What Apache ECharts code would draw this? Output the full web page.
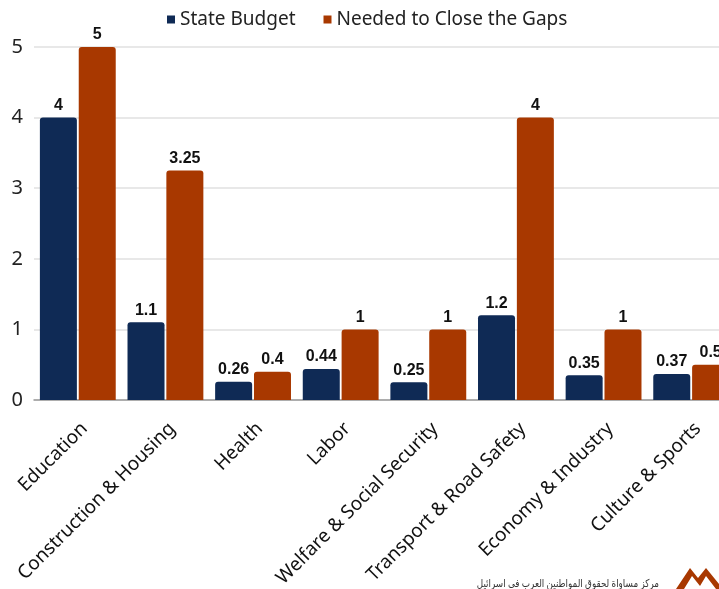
<!DOCTYPE html>
<html><head><meta charset="utf-8">
<script src="https://cdn.jsdelivr.net/npm/echarts@6/dist/echarts.min.js"></script>
<style>html,body{margin:0;padding:0;background:#fff}#c{width:719px;height:589px}</style>
</head><body><div id="c"></div>
<script>
const categories = ['Education','Construction & Housing','Health','Labor','Welfare & Social Security','Transport & Road Safety','Economy & Industry','Culture & Sports'];
const stateBudget = [4, 1.1, 0.26, 0.44, 0.25, 1.2, 0.35, 0.37];
const neededToClose = [5, 3.25, 0.4, 1, 1, 4, 1, 0.5];
const yTicks = [0, 1, 2, 3, 4, 5];
const seriesNames = ['State Budget', 'Needed to Close the Gaps'];
const logoText = 'مركز مساواة لحقوق المواطنين العرب في اسرائيل';

const chart = echarts.init(document.getElementById('c'));
const labelStyle = {show: true, position: 'top', distance: 4, fontFamily: 'Liberation Sans, Arial', fontWeight: 'bold', fontSize: 16, color: '#111'};
chart.setOption({
  animation: false,
  legend: {
    top: 5, left: 162,
    itemWidth: 8, itemHeight: 8, itemGap: 28, icon: 'rect',
    textStyle: {fontFamily: 'Noto Sans', fontSize: 19, color: '#222'},
    data: seriesNames
  },
  grid: {left: 34, width: 701, top: 47, bottom: 189, outerBoundsMode: 'none', containLabel: false},
  xAxis: {
    type: 'category', data: categories,
    axisLine: {lineStyle: {color: '#999', width: 1.5}},
    axisTick: {show: false},
    axisLabel: {rotate: 45, interval: 0, margin: 19, verticalAlign: 'top', fontFamily: 'Noto Sans', fontSize: 19, color: '#111'}
  },
  yAxis: {
    type: 'value', min: yTicks[0], max: yTicks[yTicks.length - 1], interval: 1,
    axisLine: {show: false}, axisTick: {show: false},
    axisLabel: {margin: 11, fontFamily: 'Noto Sans', fontSize: 20, color: '#222'},
    splitLine: {lineStyle: {color: '#e0e0e0', width: 1.5}}
  },
  series: [
    {name: seriesNames[0], type: 'bar', data: stateBudget, barWidth: 37, barGap: '5%',
     itemStyle: {color: '#0f2a55', borderRadius: [3,3,0,0]}, label: labelStyle},
    {name: seriesNames[1], type: 'bar', data: neededToClose, barWidth: 37,
     itemStyle: {color: '#a83800', borderRadius: [3,3,0,0]}, label: labelStyle}
  ],
  graphic: [
    {type: 'text', x: 659, y: 578, scaleX: 0.8, originX: 0, originY: 0, style: {text: logoText, font: '11px "Noto Sans", "DejaVu Sans"', fill: '#333', align: 'right', textAlign: 'right'}},
    {type: 'polygon', left: 676, top: 568, shape: {points: [[0,23],[14,2],[22,12],[30,2],[47,23],[40,23],[30,10],[24,20],[16,10],[8,23]]}, style: {fill: '#a83800'}}
  ]
});
</script></body></html>
